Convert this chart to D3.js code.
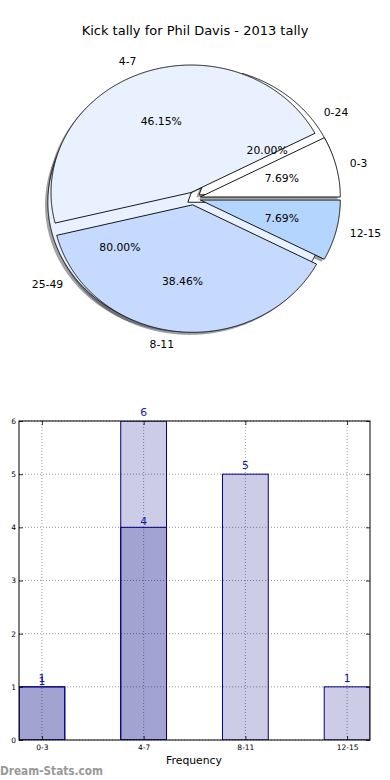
<!DOCTYPE html>
<html><head><meta charset="utf-8">
<script src="https://cdn.jsdelivr.net/npm/d3@7"></script>
<style>body{margin:0;background:#fff} text{font-family:"DejaVu Sans",sans-serif}</style>
</head><body><svg id="c" width="390" height="780"></svg>
<script>
const chartTitle = "Kick tally for Phil Davis - 2013 tally";
const kickCategories = ["0-3","4-7","8-11","12-15"];
const kickCounts = [1,6,5,1];
const kickColors = ["#ffffff","#eaf1fe","#c6d9fe","#b4d5fe"];
const distCategories = ["0-24","25-49"];
const distCounts = [1,4];
const distColors = ["#ffffff","#eaf1fe"];
const barCategories = ["0-3","4-7","8-11","12-15"];
const barTotal = [1,6,5,1];
const barSubset = [1,4,0,0];
const yTicks = [0,1,2,3,4,5,6];
const xLabel = "Frequency";
const watermark = "Dream-Stats.com";

const svg = d3.select("#c");
const FS = 10.8;

// ---------- PIE ----------
const cx = 193.5, cy = 198.5, rx = 140, ry = 127.5, explode = 0.05;
const sx = d3.scaleLinear().domain([-1,1]).range([cx-rx, cx+rx]);
const sy = d3.scaleLinear().domain([-1,1]).range([cy+ry, cy-ry]);
const line = d3.line().x(d=>sx(d[0])).y(d=>sy(d[1]));
const pieGen = d3.pie().sort(null).startAngle(0).endAngle(2*Math.PI);

function buildSlices(values, labels, colors){
  return pieGen(values).map((d,i)=>{
    const m = (d.startAngle+d.endAngle)/2;
    return {a0:d.startAngle, a1:d.endAngle, m, label:labels[i], color:colors[i],
      ox: explode*Math.cos(m), oy: explode*Math.sin(m), frac: d.value/d3.sum(values)};
  });
}
function wedge(s, dx, dy){
  const pts = [[s.ox+dx, s.oy+dy]];
  const n = Math.max(4, Math.ceil((s.a1-s.a0)/0.005));
  for(let i=0;i<=n;i++){ const t = s.a0+(s.a1-s.a0)*i/n; pts.push([s.ox+dx+Math.cos(t), s.oy+dy+Math.sin(t)]); }
  pts.push([s.ox+dx, s.oy+dy]);
  return line(pts)+"Z";
}
const sliceA = buildSlices(distCounts, distCategories, distColors);
const sliceB = buildSlices(kickCounts, kickCategories, kickColors);
const all = sliceA.concat(sliceB);

const gp = svg.append("g");
// shadows
gp.selectAll("path.sh").data(all).enter().append("path").attr("class","sh")
  .attr("d", s=>wedge(s,-0.02,-0.02))
  .attr("fill", s=>{const c=d3.rgb(s.color); return d3.rgb(c.r*0.3,c.g*0.3,c.b*0.3).toString();})
  .attr("fill-opacity",0.5).attr("stroke","none");
// wedges
gp.selectAll("path.w").data(all).enter().append("path").attr("class","w")
  .attr("d", s=>wedge(s,0,0))
  .attr("fill", s=>s.color).attr("stroke","#000").attr("stroke-width",0.9).attr("stroke-linejoin","miter");
// labels
all.forEach(s=>{
  const lx = s.ox+1.1*Math.cos(s.m), ly = s.oy+1.1*Math.sin(s.m);
  gp.append("text").attr("x",sx(lx)).attr("y",sy(ly)).attr("dy","0.35em")
    .attr("text-anchor", lx>0?"start":"end").attr("font-size",FS).text(s.label);
  const px = s.ox+0.6*Math.cos(s.m), py = s.oy+0.6*Math.sin(s.m);
  gp.append("text").attr("x",sx(px)).attr("y",sy(py)).attr("dy","0.35em")
    .attr("text-anchor","middle").attr("font-size",FS).text((s.frac*100).toFixed(2)+"%");
});
svg.append("text").attr("x",195).attr("y",30).attr("dy","0.35em").attr("text-anchor","middle")
  .attr("font-size",13).text(chartTitle);

// ---------- BARS ----------
const L=19, R=370, T=421, B=740, bw=0.45;
const x = d3.scaleLinear().domain([-0.225, 3.225]).range([L,R]);
const y = d3.scaleLinear().domain([0,6]).range([B,T]);
const gb = svg.append("g");
gb.append("clipPath").attr("id","ax").append("rect").attr("x",L).attr("y",T).attr("width",R-L).attr("height",B-T);
// grid
const grid = gb.append("g").attr("stroke","#999").attr("stroke-width",1).attr("stroke-dasharray","1,2");
barCategories.forEach((c,i)=>grid.append("line").attr("x1",x(i)).attr("x2",x(i)).attr("y1",T).attr("y2",B));
yTicks.forEach(v=>grid.append("line").attr("x1",L).attr("x2",R).attr("y1",y(v)).attr("y2",y(v)));
// bars
const bars = gb.append("g").attr("clip-path","url(#ax)");
[barTotal, barSubset].forEach(series=>{
  series.forEach((v,i)=>{
    if(v<=0) return;
    bars.append("rect").attr("x",x(i-bw/2)).attr("width",x(i+bw/2)-x(i-bw/2))
      .attr("y",y(v)).attr("height",y(0)-y(v))
      .attr("fill","#000080").attr("fill-opacity",0.2).attr("stroke","#000080").attr("stroke-width",1);
  });
});
// bar labels
barTotal.forEach((v,i)=>{ if(v>0) gb.append("text").attr("x",x(i)).attr("y",y(v)-5).attr("text-anchor","middle")
  .attr("font-size",FS).attr("fill","#1a1a9a").text(v); });
barSubset.forEach((v,i)=>{ if(v>0) gb.append("text").attr("x",x(i)).attr("y",y(v)-2).attr("text-anchor","middle")
  .attr("font-size",FS).attr("fill","#1a1a9a").text(v); });
// axes
const ay = gb.append("g").attr("transform",`translate(${L},0)`).call(d3.axisLeft(y).tickValues(yTicks).tickSize(-4).tickPadding(3).tickFormat(d3.format("d")));
const ayr = gb.append("g").attr("transform",`translate(${R},0)`).call(d3.axisRight(y).tickValues(yTicks).tickSize(-4).tickFormat(""));
const ax = gb.append("g").attr("transform",`translate(0,${B})`).call(d3.axisBottom(x).tickValues([0,1,2,3]).tickSize(-4).tickPadding(5).tickFormat(i=>barCategories[i]));
const axt = gb.append("g").attr("transform",`translate(0,${T})`).call(d3.axisTop(x).tickValues([0,1,2,3]).tickSize(-4).tickFormat(""));
[ay,ayr,ax,axt].forEach(g=>{ g.select(".domain").remove(); g.selectAll("text").attr("font-size",7.5).attr("font-family","DejaVu Sans").attr("fill","#000"); g.selectAll("line").attr("stroke","#000").attr("stroke-width",0.8); });
gb.append("rect").attr("x",L).attr("y",T).attr("width",R-L).attr("height",B-T).attr("fill","none").attr("stroke","#000").attr("stroke-width",1);
gb.append("text").attr("x",194).attr("y",764).attr("text-anchor","middle").attr("font-size",FS).text(xLabel);
svg.append("text").attr("x",0).attr("y",775).attr("font-size",12).attr("font-weight","bold").attr("fill","#999")
  .attr("textLength",103).attr("lengthAdjust","spacingAndGlyphs").text(watermark);
</script></body></html>
